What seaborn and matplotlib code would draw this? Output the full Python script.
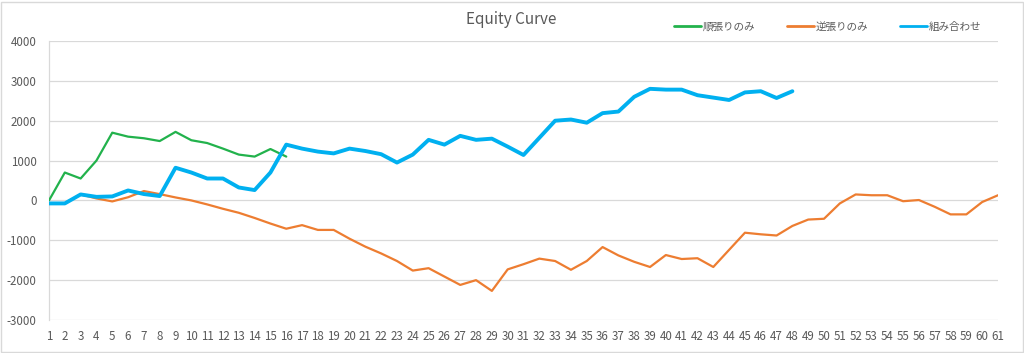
import matplotlib
matplotlib.use("Agg")
import matplotlib.pyplot as plt
import seaborn as sns
import pandas as pd
from matplotlib.patches import Rectangle

trend_only = [0, 700, 550, 1000, 1700, 1600, 1560, 1490, 1720, 1510, 1440, 1300,
              1150, 1100, 1290, 1100]
counter_only = [-70, -70, 150, 50, -25, 80, 235, 158, 75, 0, -100, -210, -310, -440,
                -580, -710, -620, -740, -740, -960, -1160, -1330, -1520, -1760, -1700,
                -1910, -2120, -2000, -2270, -1730, -1600, -1460, -1520, -1740, -1520,
                -1170, -1380, -1540, -1670, -1370, -1470, -1450, -1670, -1240, -810,
                -850, -880, -640, -480, -460, -75, 150, 130, 130, -20, 10, -160, -350,
                -350, -40, 130]
combined = [-75, -75, 150, 90, 100, 250, 160, 110, 820, 700, 550, 550, 325, 260, 700,
            1400, 1300, 1225, 1180, 1300, 1240, 1160, 950, 1150, 1520, 1400, 1620,
            1520, 1550, 1350, 1140, 1570, 2000, 2030, 1950, 2190, 2230, 2600, 2800,
            2780, 2780, 2640, 2580, 2520, 2710, 2740, 2570, 2740]

series_names = ["順張りのみ", "逆張りのみ", "組み合わせ"]
y_ticks = [-3000, -2000, -1000, 0, 1000, 2000, 3000, 4000]
x_ticks = list(range(1, 62))

sns.set_style("white")
plt.rcParams['font.family'] = ['Noto Sans CJK JP', 'DejaVu Sans']

fig = plt.figure(figsize=(10.24, 3.53), dpi=100)
W, H = 1024, 353
ax = fig.add_axes([49 / W, (H - 320) / H, (998 - 49) / W, (320 - 41) / H])

df_t = pd.DataFrame({"x": range(1, len(trend_only) + 1), "y": trend_only})
df_c = pd.DataFrame({"x": range(1, len(counter_only) + 1), "y": counter_only})
df_b = pd.DataFrame({"x": range(1, len(combined) + 1), "y": combined})

sns.lineplot(data=df_t, x="x", y="y", ax=ax, color="#22B24C", linewidth=1.6,
             label=series_names[0], zorder=3)
sns.lineplot(data=df_c, x="x", y="y", ax=ax, color="#ED7D31", linewidth=1.6,
             label=series_names[1], zorder=3)
sns.lineplot(data=df_b, x="x", y="y", ax=ax, color="#00B0F0", linewidth=2.8,
             label=series_names[2], zorder=4)

ax.set_xlim(1, 61)
ax.set_ylim(-3000, 4000)
ax.set_xticks(x_ticks)
ax.set_xticklabels([str(v) for v in x_ticks])
ax.set_yticks(y_ticks)
ax.set_yticklabels([str(v) for v in y_ticks])
ax.set_xlabel("")
ax.set_ylabel("")
ax.grid(axis="y", color="#D9D9D9", linewidth=0.9)
ax.grid(axis="x", visible=False)
ax.set_axisbelow(True)
for side in ["top", "right", "bottom"]:
    ax.spines[side].set_visible(False)
ax.spines["left"].set_color("#D9D9D9")
ax.spines["left"].set_linewidth(0.9)
ax.tick_params(axis="both", length=0, labelsize=8.3, labelcolor="#595959")
ax.tick_params(axis="y", pad=9)
ax.tick_params(axis="x", pad=7)

fig.text(511 / W, 1 - 20 / H, "Equity Curve", ha="center", va="center",
         fontsize=11, color="#595959")

leg = ax.legend(loc="center left", bbox_to_anchor=(664 / W, 1 - 27 / H),
                bbox_transform=fig.transFigure, ncol=3, frameon=False,
                fontsize=7.6, handlelength=2.6, handletextpad=0.15,
                columnspacing=3.0, labelcolor="#595959")
for line in leg.get_lines():
    line.set_linewidth(2.0)

fig.patches.append(Rectangle((0.5 / W, 1.5 / H), 1 - 2 / W, 1 - 3 / H,
                             transform=fig.transFigure, fill=False,
                             edgecolor="#D9D9D9", linewidth=1))

fig.savefig("out.png", dpi=100, facecolor="white")
